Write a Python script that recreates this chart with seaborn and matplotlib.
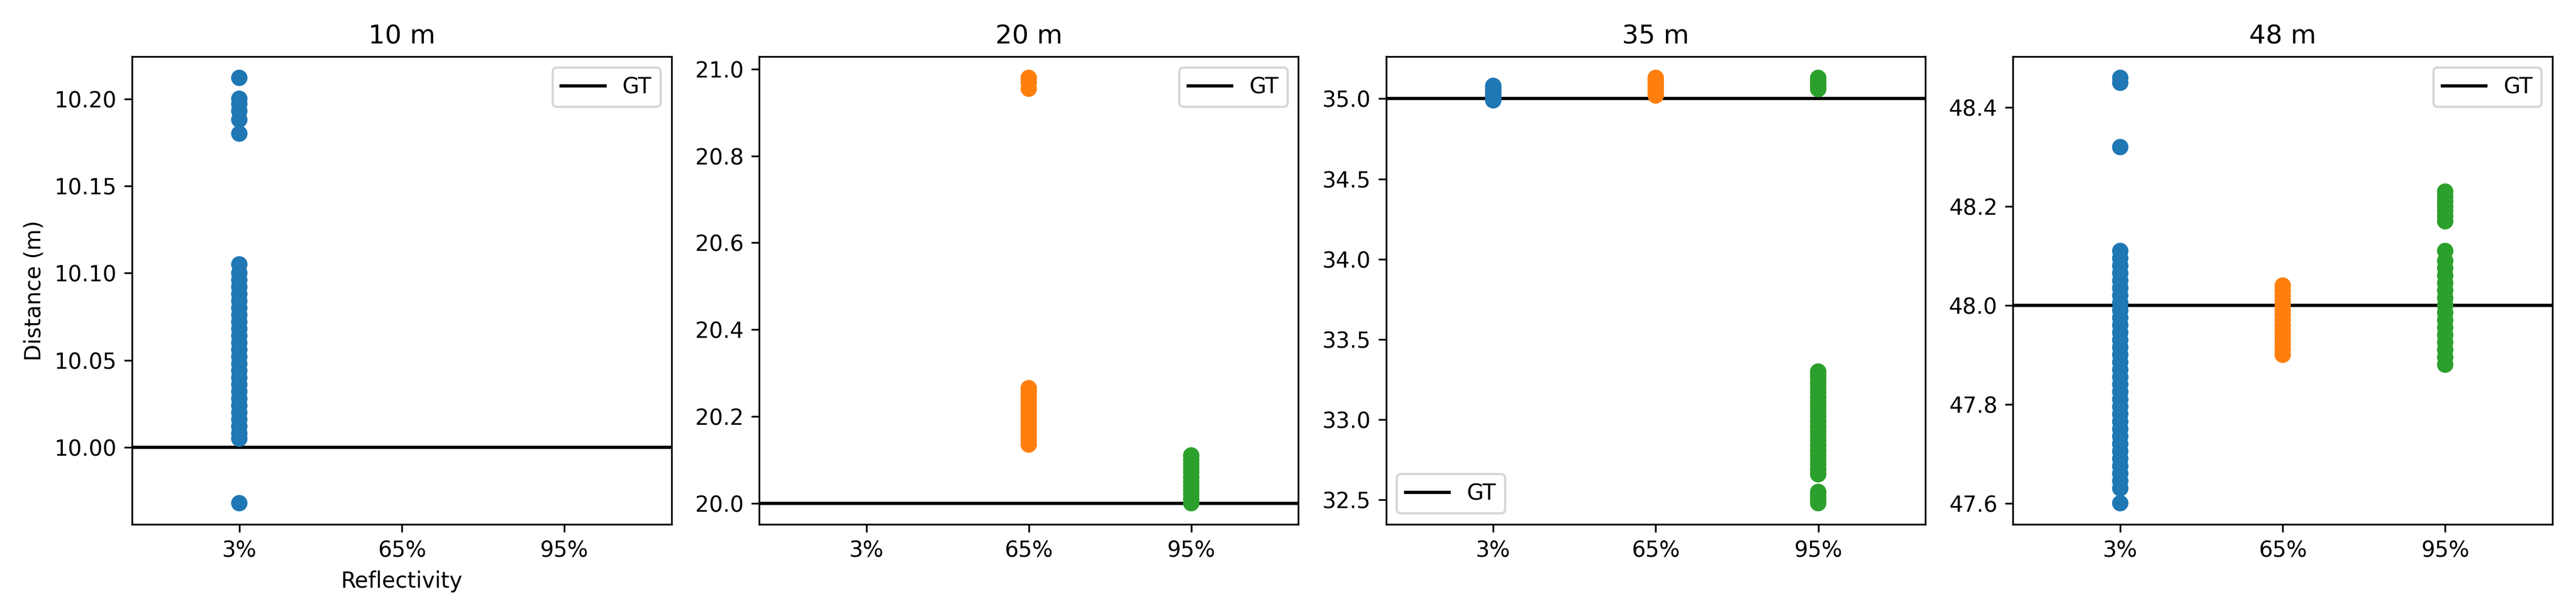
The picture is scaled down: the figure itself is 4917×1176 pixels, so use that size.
import pandas as pd
import numpy as np
import matplotlib.pyplot as plt
import seaborn as sns

plt.rcParams['font.family'] = ['DejaVu Sans']

refl = ['3%', '65%', '95%']
colors = ['#1f77b4', '#ff7f0e', '#2ca02c']
ranges = ['10 m', '20 m', '35 m', '48 m']
gt = [10.0, 20.0, 35.0, 48.0]
legend_loc = ['upper right', 'upper right', 'lower left', 'upper right']

# readings per range / reflectivity
d10_3 = [9.968, 10.005, 10.008, 10.012, 10.016, 10.020, 10.024, 10.028, 10.032, 10.036,
         10.040, 10.044, 10.048, 10.052, 10.056, 10.060, 10.064, 10.068, 10.072, 10.076,
         10.080, 10.084, 10.088, 10.092, 10.096, 10.100, 10.105,
         10.180, 10.188, 10.193, 10.197, 10.200, 10.212]
d10_65 = []
d10_95 = []

d20_3 = []
d20_65 = [20.135, 20.145, 20.155, 20.165, 20.175, 20.185, 20.195, 20.205, 20.215, 20.225,
          20.235, 20.245, 20.255, 20.265, 20.955, 20.97, 20.98]
d20_95 = [20.0, 20.01, 20.02, 20.03, 20.04, 20.05, 20.06, 20.07, 20.08, 20.09, 20.10, 20.11]

d35_3 = [34.99, 35.00, 35.01, 35.02, 35.03, 35.04, 35.05, 35.06, 35.07, 35.08]
d35_65 = [35.02, 35.03, 35.04, 35.05, 35.06, 35.07, 35.08, 35.09, 35.10, 35.11, 35.12, 35.13]
d35_95 = [32.48, 32.50, 32.52, 32.54, 32.55, 32.66, 32.69, 32.72, 32.75, 32.78, 32.81,
          32.84, 32.87, 32.90, 32.93, 32.96, 32.99, 33.02, 33.05, 33.08, 33.11, 33.14,
          33.17, 33.20, 33.23, 33.26, 33.28, 33.30,
          35.06, 35.07, 35.08, 35.09, 35.10, 35.11, 35.12, 35.13]

d48_3 = [47.60, 47.63, 47.645, 47.66, 47.675, 47.69, 47.705, 47.72, 47.735, 47.75, 47.765,
         47.78, 47.795, 47.81, 47.825, 47.84, 47.855, 47.87, 47.885, 47.90, 47.915, 47.93,
         47.945, 47.96, 47.975, 47.99, 48.005, 48.02, 48.035, 48.05, 48.065, 48.08, 48.095,
         48.11, 48.32, 48.45, 48.46]
d48_65 = [47.90, 47.91, 47.92, 47.93, 47.94, 47.95, 47.96, 47.97, 47.98, 47.99, 48.00,
          48.01, 48.02, 48.03, 48.04]
d48_95 = [47.88, 47.895, 47.91, 47.925, 47.94, 47.955, 47.97, 47.985, 48.00, 48.015,
          48.03, 48.045, 48.06, 48.075, 48.09, 48.11, 48.17, 48.18, 48.19, 48.20, 48.21,
          48.22, 48.23]

data = [[d10_3, d10_65, d10_95], [d20_3, d20_65, d20_95],
        [d35_3, d35_65, d35_95], [d48_3, d48_65, d48_95]]

fig, axes = plt.subplots(1, 4, figsize=(16.39, 3.92), dpi=300)
for i, ax in enumerate(axes):
    rows = []
    for r, vals in zip(refl, data[i]):
        for v in vals:
            rows.append({'Reflectivity': r, 'Distance': v})
    df = pd.DataFrame(rows)
    sns.stripplot(data=df, x='Reflectivity', y='Distance', hue='Reflectivity',
                  order=refl, hue_order=refl, palette=colors, jitter=False,
                  size=7.5, linewidth=0, legend=False, ax=ax)
    ax.axhline(gt[i], color='black', label='GT')
    ax.set_xlim(-0.66, 2.66)
    ax.set_title(ranges[i])
    ax.legend(loc=legend_loc[i])
    if i == 0:
        ax.set_xlabel('Reflectivity')
        ax.set_ylabel('Distance (m)')
    else:
        ax.set_xlabel('')
        ax.set_ylabel('')

plt.tight_layout()
plt.savefig('out.png')
